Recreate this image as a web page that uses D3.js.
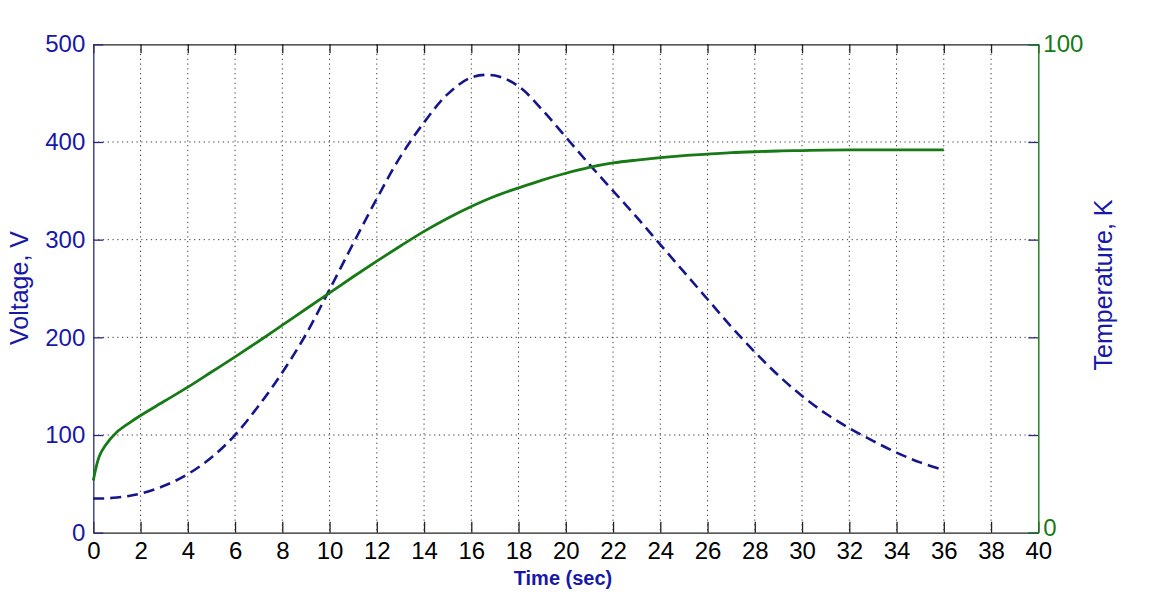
<!DOCTYPE html>
<html>
<head>
<meta charset="utf-8">
<script src="https://cdn.jsdelivr.net/npm/d3@7/dist/d3.min.js"></script>
<style>
  html, body { margin: 0; padding: 0; background: #ffffff; }
  svg { display: block; font-family: "Liberation Sans", Arial, Helvetica, sans-serif; }
</style>
</head>
<body>
<svg id="chart" width="1151" height="595"></svg>
<script>
// Sample times (sec)
const time = [0, 0.25, 0.5, 1, 1.5, 2, 3, 4, 5, 6, 7, 8, 9, 10, 11, 12, 13, 14, 15, 16, 17, 18,
              19, 20, 21, 22, 23, 24, 25, 26, 27, 28, 29, 30, 31, 32, 33, 34, 35, 36];
// Voltage (V), left axis
const voltage = [35, 35, 35, 36, 37.5, 40, 48, 60, 77, 100, 130, 164, 203, 249, 296, 342, 385, 420,
                 449, 466, 468, 457, 433, 405, 377, 350, 323, 295, 267, 239, 211, 185, 161, 140,
                 122, 107, 94, 82, 72, 64];
// Temperature (K), right axis
const temperature = [10.7, 15.6, 17.8, 20.6, 22.4, 24, 26.9, 29.8, 32.9, 36, 39.2, 42.5, 45.8, 49.1,
                     52.4, 55.6, 58.7, 61.7, 64.4, 66.8, 68.9, 70.6, 72.2, 73.6, 74.8, 75.7, 76.3,
                     76.8, 77.2, 77.5, 77.8, 78, 78.15, 78.25, 78.35, 78.4, 78.4, 78.4, 78.4, 78.4];

const xTicks = d3.range(0, 41, 2);
const voltTicks = [0, 100, 200, 300, 400, 500];
const tempTicks = [0, 100];

const BLUE_TEXT = "#1818a8";
const BLUE_LINE = "#16168c";
const GREEN = "#177a17";
const FONT = "Liberation Sans, Arial, sans-serif";

const plotLeft = 93.3, plotRight = 1038.3, plotTop = 44.3, plotBottom = 532.7;

const svg = d3.select("#chart");

const x = d3.scaleLinear().domain([0, 40]).range([plotLeft, plotRight]);
const yV = d3.scaleLinear().domain([0, 500]).range([plotBottom, plotTop]);
const yT = d3.scaleLinear().domain([0, 100]).range([plotBottom, plotTop]);

// dotted grid
const grid = svg.append("g").attr("stroke", "#333").attr("stroke-width", 1)
  .attr("stroke-dasharray", "1.2,3.6");
grid.selectAll("line.gx").data(xTicks.filter(t => t > 0 && t < 40)).join("line")
  .attr("class", "gx")
  .attr("x1", d => x(d)).attr("x2", d => x(d)).attr("y1", plotTop).attr("y2", plotBottom);
grid.selectAll("line.gy").data(voltTicks.filter(t => t > 0 && t < 500)).join("line")
  .attr("class", "gy")
  .attr("x1", plotLeft).attr("x2", plotRight).attr("y1", d => yV(d)).attr("y2", d => yV(d));

// axes
const bottomAxis = svg.append("g").attr("transform", `translate(0,${plotBottom})`)
  .call(d3.axisBottom(x).tickValues(xTicks).tickSize(-11).tickPadding(9).tickSizeOuter(0));
bottomAxis.select(".domain").attr("stroke", "#222").attr("stroke-width", 1.3);
bottomAxis.selectAll(".tick line").attr("stroke", "#222").attr("stroke-width", 1.3);
bottomAxis.selectAll(".tick text").attr("fill", "#000").attr("font-size", 24).attr("font-family", FONT);

const topAxis = svg.append("g").attr("transform", `translate(0,${plotTop})`)
  .call(d3.axisTop(x).tickValues(xTicks).tickSize(-9).tickFormat("").tickSizeOuter(0));
topAxis.select(".domain").attr("stroke", "#222").attr("stroke-width", 1.3);
topAxis.selectAll(".tick line").attr("stroke", "#222").attr("stroke-width", 1.3);

const leftAxis = svg.append("g").attr("transform", `translate(${plotLeft},0)`)
  .call(d3.axisLeft(yV).tickValues(voltTicks).tickSize(-10).tickPadding(8).tickSizeOuter(0));
leftAxis.select(".domain").attr("stroke", "#2a2a7a").attr("stroke-width", 1.3);
leftAxis.selectAll(".tick line").attr("stroke", "#2a2a7a").attr("stroke-width", 1.3);
leftAxis.selectAll(".tick text").attr("fill", BLUE_TEXT).attr("font-size", 24).attr("font-family", FONT);

// voltage ticks mirrored on the right edge
const rightMirror = svg.append("g").attr("transform", `translate(${plotRight},0)`)
  .call(d3.axisRight(yV).tickValues(voltTicks).tickSize(-10).tickFormat("").tickSizeOuter(0));
rightMirror.select(".domain").remove();
rightMirror.selectAll(".tick line").attr("stroke", "#2a2a7a").attr("stroke-width", 1.3);

// temperature axis (right)
const tempAxis = svg.append("g").attr("transform", `translate(${plotRight},0)`)
  .call(d3.axisRight(yT).tickValues(tempTicks).tickSize(-10).tickPadding(5).tickSizeOuter(0));
tempAxis.select(".domain").attr("stroke", GREEN).attr("stroke-width", 1.4);
tempAxis.selectAll(".tick line").attr("stroke", GREEN).attr("stroke-width", 1.3);
tempAxis.selectAll(".tick text").attr("fill", GREEN).attr("font-size", 24).attr("font-family", FONT)
  .attr("dy", d => d === 0 ? "0.1em" : "0.32em");

// series
const voltLine = d3.line().x((d, i) => x(time[i])).y(d => yV(d)).curve(d3.curveCatmullRom.alpha(0.5));
const tempLine = d3.line().x((d, i) => x(time[i])).y(d => yT(d)).curve(d3.curveCatmullRom.alpha(0.5));

svg.append("path").datum(voltage)
  .attr("d", voltLine).attr("fill", "none")
  .attr("stroke", BLUE_LINE).attr("stroke-width", 2.6)
  .attr("stroke-dasharray", "11,6");

svg.append("path").datum(temperature)
  .attr("d", tempLine).attr("fill", "none")
  .attr("stroke", GREEN).attr("stroke-width", 2.8);

// axis titles
svg.append("text").attr("x", 563).attr("y", 585).attr("text-anchor", "middle")
  .attr("font-size", 20).attr("font-weight", "bold").attr("fill", BLUE_TEXT)
  .text("Time (sec)");

svg.append("text").attr("transform", "translate(28,288) rotate(-90)")
  .attr("text-anchor", "middle").attr("font-size", 25).attr("fill", BLUE_TEXT)
  .text("Voltage, V");

svg.append("text").attr("transform", "translate(1112,285) rotate(-90)")
  .attr("text-anchor", "middle").attr("font-size", 25).attr("fill", BLUE_TEXT)
  .text("Temperature, K");
</script>
</body>
</html>
